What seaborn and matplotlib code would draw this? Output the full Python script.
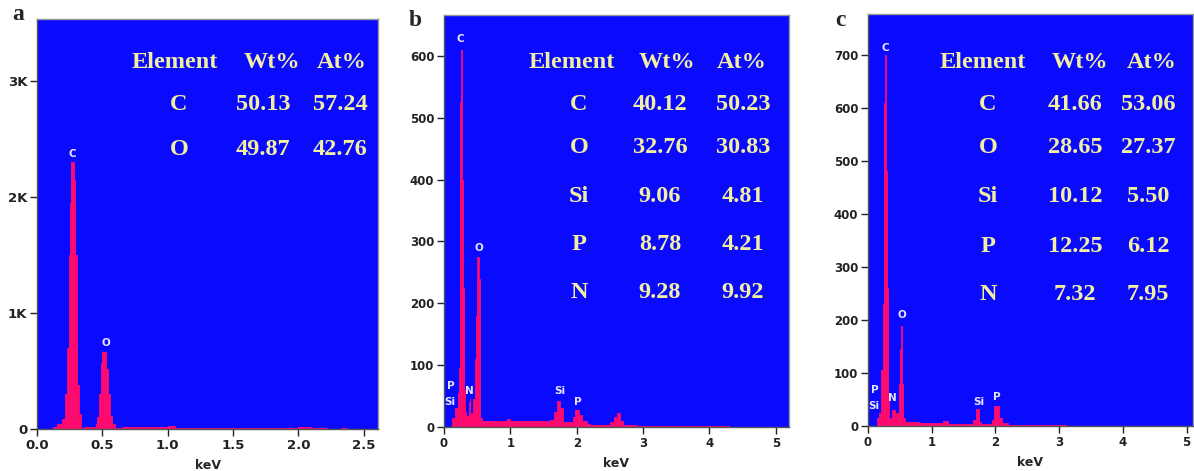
import numpy as np
import pandas as pd
import matplotlib
matplotlib.use("Agg")
import matplotlib.pyplot as plt
import seaborn as sns

# --- datos EDS (energía en keV, cuentas) ---
edges_a = [0.12, 0.15, 0.19, 0.215, 0.23, 0.242, 0.254, 0.262, 0.28, 0.293, 0.305,
           0.323, 0.336, 0.36, 0.45, 0.46, 0.475, 0.49, 0.5, 0.53, 0.545, 0.56, 0.575,
           0.60, 0.65, 1.0, 1.06, 1.2, 2.0, 2.1, 2.22, 2.33, 2.37]
counts_a = [15, 40, 90, 300, 700, 1500, 1950, 2300, 2140, 1500, 380, 130, 10, 20, 40,
            100, 300, 570, 660, 520, 300, 110, 40, 10, 15, 22, 12, 8, 16, 10, 0, 8]

edges_b = [0.125, 0.16, 0.21, 0.225, 0.236, 0.246, 0.26, 0.278, 0.285, 0.297, 0.31,
           0.335, 0.375, 0.385, 0.398, 0.41, 0.44, 0.468, 0.483, 0.498, 0.523, 0.538,
           0.55, 0.575, 0.70, 0.95, 1.0, 1.6, 1.66, 1.70, 1.75, 1.80, 1.85, 1.95, 1.98,
           2.03, 2.08, 2.15, 2.2, 2.5, 2.56, 2.6, 2.65, 2.7, 2.9, 3.3, 3.8, 4.3]
counts_b = [15, 30, 55, 95, 190, 525, 610, 400, 225, 60, 25, 18, 40, 45, 20, 22, 45,
            110, 180, 275, 240, 50, 15, 10, 9, 13, 9, 12, 25, 42, 30, 8, 8, 16, 28, 20,
            10, 5, 3, 8, 16, 22, 10, 4, 2, 2, 1.5]

edges_c = [0.14, 0.18, 0.21, 0.236, 0.25, 0.266, 0.288, 0.298, 0.314, 0.33, 0.35,
           0.38, 0.42, 0.445, 0.48, 0.497, 0.512, 0.53, 0.54, 0.555, 0.575, 0.8, 1.18,
           1.25, 1.65, 1.69, 1.74, 1.78, 1.95, 1.98, 2.05, 2.1, 2.2, 2.6, 3.1]
counts_c = [15, 25, 105, 230, 610, 700, 480, 260, 50, 12, 15, 30, 12, 25, 80, 145,
            188, 170, 80, 15, 8, 6, 10, 4, 12, 33, 8, 4, 12, 38, 15, 5, 2, 1.5]

# etiquetas de picos (elemento, keV, cuentas)
picos_a = [("C", 0.272, 2370), ("O", 0.524, 740)]
picos_b = [("C", 0.25, 627), ("O", 0.523, 290), ("P", 0.096, 67), ("Si", 0.085, 40),
           ("N", 0.387, 59), ("Si", 1.745, 58), ("P", 2.02, 40)]
picos_c = [("C", 0.272, 713), ("O", 0.524, 210), ("P", 0.105, 68), ("Si", 0.09, 37),
           ("N", 0.39, 52), ("Si", 1.74, 46), ("P", 2.02, 54)]

# tablas de composición
elem_a = ["C", "O"]
wt_a = ["50.13", "49.87"]
at_a = ["57.24", "42.76"]
elem_b = ["C", "O", "Si", "P", "N"]
wt_b = ["40.12", "32.76", "9.06", "8.78", "9.28"]
at_b = ["50.23", "30.83", "4.81", "4.21", "9.92"]
elem_c = ["C", "O", "Si", "P", "N"]
wt_c = ["41.66", "28.65", "10.12", "12.25", "7.32"]
at_c = ["53.06", "27.37", "5.50", "6.12", "7.95"]

# --- estilo ---
sns.set_style("ticks")
plt.rcParams['font.family'] = ['DejaVu Sans']

AZUL = '#0A0AFF'
ROSA = '#FF0A6E'
AMARILLO = '#F2EFA0'
W, H = 1194, 471

fig = plt.figure(figsize=(W / 100, H / 100), dpi=100)


def px(x, y):
    return x / W, 1 - y / H


def caja(l, t, r, b):
    return [l / W, 1 - b / H, (r - l) / W, (b - t) / H]


paneles = [
    dict(edges=edges_a, counts=counts_a, picos=picos_a, elem=elem_a, wt=wt_a, at=at_a,
         box=caja(37, 19, 378, 429), xlim=(0, 2.61), ylim=(0, 3530),
         xticks=[0, 0.5, 1.0, 1.5, 2.0, 2.5], xlabels=["0.0", "0.5", "1.0", "1.5", "2.0", "2.5"],
         yticks=[0, 1000, 2000, 3000], ylabels=["0", "1K", "2K", "3K"],
         letra="a", letra_xy=(18, 15), tick_fs=9.5,
         col_x=(175, 272, 342), val_x=(179, 263, 340), filas_y=[105, 150]),
    dict(edges=edges_b, counts=counts_b, picos=picos_b, elem=elem_b, wt=wt_b, at=at_b,
         box=caja(444, 15, 789, 427), xlim=(0, 5.2), ylim=(0, 666),
         xticks=[0, 1, 2, 3, 4, 5], xlabels=["0", "1", "2", "3", "4", "5"],
         yticks=[0, 100, 200, 300, 400, 500, 600], ylabels=None,
         letra="b", letra_xy=(415, 21), tick_fs=8.5,
         col_x=(572, 667, 742), val_x=(579, 660, 743), filas_y=[105, 148, 197, 245, 293]),
    dict(edges=edges_c, counts=counts_c, picos=picos_c, elem=elem_c, wt=wt_c, at=at_c,
         box=caja(868, 14, 1193, 426), xlim=(0, 5.1), ylim=(0, 777),
         xticks=[0, 1, 2, 3, 4, 5], xlabels=["0", "1", "2", "3", "4", "5"],
         yticks=[0, 100, 200, 300, 400, 500, 600, 700], ylabels=None,
         letra="c", letra_xy=(840, 20), tick_fs=8.5,
         col_x=(983, 1080, 1152), val_x=(988, 1075, 1148), filas_y=[105, 148, 197, 247, 295]),
]

for p in paneles:
    ax = fig.add_axes(p['box'])
    ax.set_facecolor(AZUL)
    e = np.array(p['edges'])
    espectro = pd.DataFrame({'keV': (e[:-1] + e[1:]) / 2, 'cuentas': p['counts']})
    sns.histplot(data=espectro, x='keV', weights='cuentas', bins=list(p['edges']),
                 element='step', fill=True, color=ROSA, alpha=1, linewidth=0.6,
                 edgecolor=ROSA, ax=ax)
    ax.set_xlim(*p['xlim'])
    ax.set_ylim(*p['ylim'])
    ax.set_xticks(p['xticks'])
    ax.set_xticklabels(p['xlabels'], fontweight='bold', fontsize=p['tick_fs'])
    ax.set_yticks(p['yticks'])
    if p['ylabels'] is not None:
        ax.set_yticklabels(p['ylabels'], fontweight='bold', fontsize=p['tick_fs'])
    else:
        ax.set_yticklabels([str(v) for v in p['yticks']], fontweight='bold', fontsize=p['tick_fs'])
    ax.tick_params(direction='out', length=5, width=1, pad=2, colors='#222222')
    ax.set_ylabel("")
    ax.set_xlabel("keV", fontweight='bold', fontsize=9, labelpad=5)
    for s in ['left', 'bottom']:
        ax.spines[s].set_color('#555555')
        ax.spines[s].set_linewidth(1.0)
    for s in ['top', 'right']:
        ax.spines[s].set_color('#999999')
        ax.spines[s].set_linewidth(1.0)

    for nombre, xk, yc in p['picos']:
        ax.text(xk, yc, nombre, color='#E6E6FF', fontsize=7.5, fontweight='bold',
                ha='center', va='center')

    # letra del panel
    fig.text(*px(*p['letra_xy']), p['letra'], fontsize=17, fontweight='bold',
             family=['Liberation Serif'], ha='center', va='center')

    # tabla de composición
    cabecera = ["Element", "Wt%", "At%"]
    for cx, txt in zip(p['col_x'], cabecera):
        fig.text(*px(cx, 63), txt, color=AMARILLO, fontsize=17.5, fontweight='bold',
                 family=['Liberation Serif'], ha='center', va='center')
    for fy, el, w, a in zip(p['filas_y'], p['elem'], p['wt'], p['at']):
        for cx, txt in zip(p['val_x'], (el, w, a)):
            fig.text(*px(cx, fy), txt, color=AMARILLO, fontsize=17.5, fontweight='bold',
                     family=['Liberation Serif'], ha='center', va='center')

fig.savefig("out.png", dpi=100)
